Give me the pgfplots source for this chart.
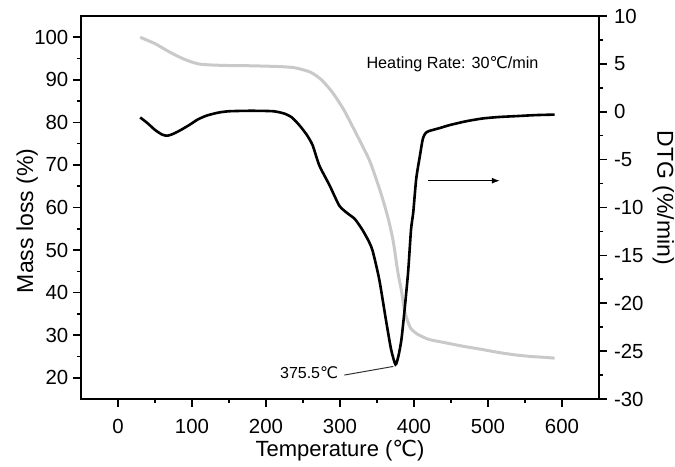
\documentclass[border=0pt]{standalone}
\usepackage{pgfplots}
\pgfplotsset{compat=1.18}
\usetikzlibrary{arrows.meta}
\usepackage{fontspec}
\setmainfont{Liberation Sans}
\newfontfamily\sym{DejaVu Sans}
\pgfplotstableread{
T M
30 100
50 98.5
70 96.5
90 94.8
110 93.7
140 93.4
180 93.3
220 93.1
240 92.8
260 91.8
275 90
290 87
305 83
320 78
340 71
355 63.5
365 57.5
372 52
378 45
383 40.5
387 36
391 33.5
396 31.5
405 30.2
420 29
440 28.3
466 27.4
490 26.7
512 26
535 25.4
557 25
575 24.8
590 24.6
}\tg
\pgfplotstableread{
T D
30 -0.6
40 -1.2
50 -1.9
60 -2.4
67 -2.5
75 -2.3
85 -1.9
96 -1.4
108 -0.8
120 -0.4
135 -0.1
150 0.05
180 0.1
210 0.05
225 -0.2
235 -0.6
245 -1.4
255 -2.4
263 -3.5
272 -5.6
286 -7.7
299 -9.8
310 -10.6
320 -11.2
330 -12.3
338 -13.4
344 -14.5
353 -17.5
362 -21.7
369 -24.8
375 -26.4
379 -25.5
383 -23.8
387 -20.9
392 -16.8
396 -12.3
399 -10.5
403 -7
408 -4.6
412 -2.8
416 -2.2
421 -2.0
435 -1.7
448 -1.4
470 -1.0
493 -0.7
515 -0.55
540 -0.45
565 -0.35
590 -0.3
}\dtg
\begin{document}
\begin{tikzpicture}
\pgfplotsset{
  common/.style={
    scale only axis, width=259pt, height=191.5pt,
    xmin=-50, xmax=650,
    tick align=outside,
    major tick length=4pt, minor tick length=2pt,
    axis line style={line width=1pt},
    tick style={line width=0.8pt, black},
    ticklabel style={font=\fontsize{10.2}{12}\selectfont},
    label style={font=\fontsize{11.5}{13}\selectfont},
    /pgf/number format/assume math mode=true,
  }
}
\begin{axis}[common,
  ymin=15, ymax=105,
  xtick={0,100,...,600}, minor x tick num=1,
  ytick={20,30,...,100}, minor y tick num=1,
  xtick pos=bottom, ytick pos=left,
  xticklabel style={yshift=-2.5pt},
  yticklabel style={xshift=1.2pt},
  xlabel={Temperature ({\sym ℃})},
  ylabel={Mass loss (\%)},
  xlabel style={at={(axis description cs:0.5,-0.134)}, anchor=center, font=\fontsize{11}{13}\selectfont},
  ylabel style={at={(axis description cs:-0.104,0.465)}, anchor=center},
]
\addplot[gray!42, line width=1.5pt, smooth, tension=0.4] table[x=T, y=M] {\tg};
\coordinate (bl) at (rel axis cs:0,0);
\coordinate (tr) at (rel axis cs:1,1);
\end{axis}
\begin{axis}[common,
  ymin=-30, ymax=10,
  axis y line*=right, axis x line=none,
  ytick={-30,-25,...,10}, minor y tick num=1,
  ylabel={DTG (\%/min)},
  ylabel style={at={(axis description cs:1.124,0.525)}, anchor=center, rotate=-180},
]
\addplot[black, line width=1.3pt, smooth, tension=0.4] table[x=T, y=D] {\dtg};
\draw[line width=0.5pt, black!80] (axis cs:306,-27.5) -- (axis cs:372,-26.6);
\node[anchor=east, inner sep=0pt, font=\fontsize{8}{10}\selectfont] at (axis cs:298,-27.3) {375.5{\sym ℃}};
\node[anchor=center, inner sep=0pt, font=\fontsize{8.1}{10}\selectfont] at (axis cs:452,5) {Heating Rate: 30{\sym ℃}/min};
\draw[-{Latex[length=4pt,width=3pt]}, line width=0.6pt] (axis cs:419,-7.2) -- (axis cs:516,-7.2);
\end{axis}
\pgfresetboundingbox
\path[use as bounding box] ([shift={(-40.5pt,-34pt)}]bl) rectangle ([shift={(38pt,8pt)}]tr);
\end{tikzpicture}
\end{document}
